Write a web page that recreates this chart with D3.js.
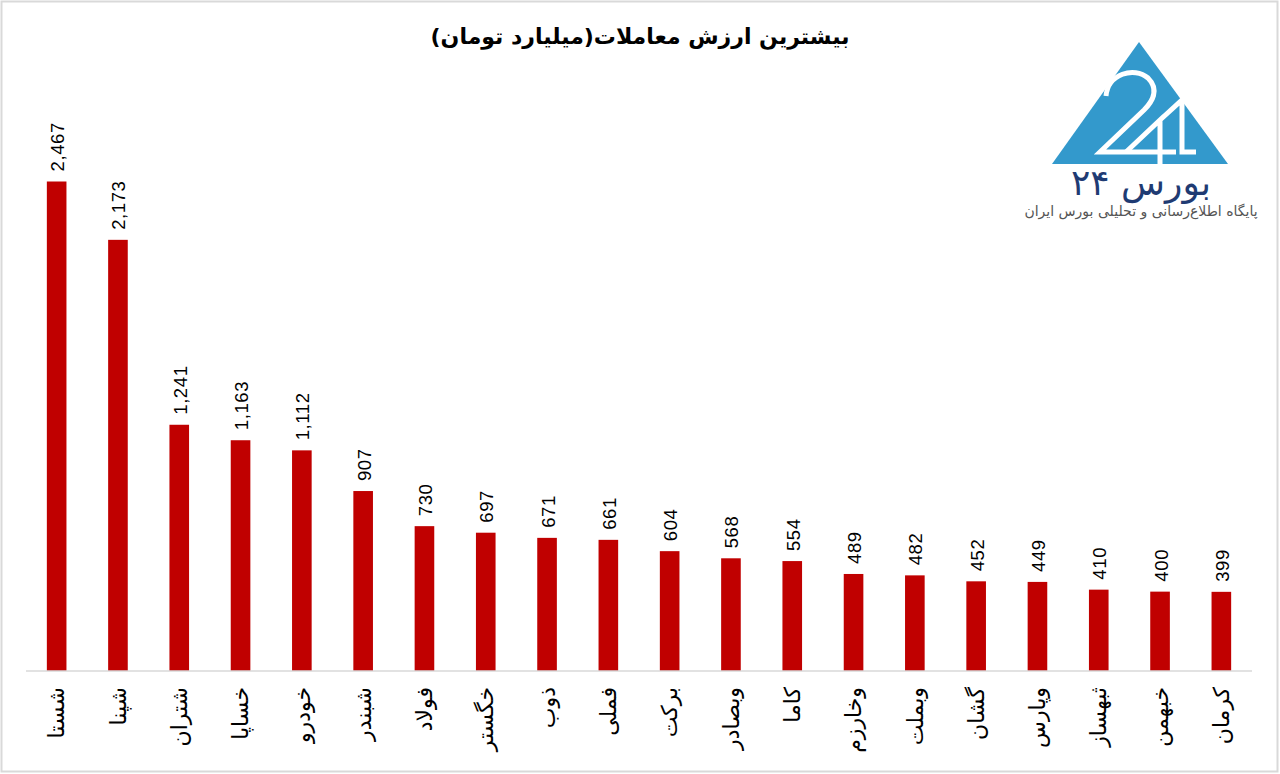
<!DOCTYPE html>
<html><head><meta charset="utf-8">
<script src="https://cdn.jsdelivr.net/npm/d3@7/dist/d3.min.js"></script>
<style>
body{margin:0;background:#fff;}
svg{display:block;}
</style></head>
<body>
<svg id="chart" width="1280" height="774"></svg>
<script>
const categories = ["شستا","شپنا","شتران","خساپا","خودرو","شبندر","فولاد","خگستر","ذوب","فملی","برکت","وبصادر","کاما","وخارزم","وبملت","گشان","وپارس","ثبهساز","خبهمن","کرمان"];
const values = [2467,2173,1241,1163,1112,907,730,697,671,661,604,568,554,489,482,452,449,410,400,399];
const title = "بیشترین ارزش معاملات(میلیارد تومان)";
const logoText = "بورس ۲۴";
const logoSub = "پایگاه اطلاع‌رسانی و تحلیلی بورس ایران";

const svg = d3.select("#chart");
svg.append("rect").attr("x",1.5).attr("y",1.5).attr("width",1276).attr("height",770)
  .attr("fill","#fff").attr("stroke","#d9d9d9").attr("stroke-width",2);

const x = d3.scaleBand().domain(categories).range([26,1252]).paddingInner(0.68).paddingOuter(0.34);
const y = d3.scaleLinear().domain([0, d3.max(values)]).range([671, 181.5]);
const data = categories.map((c,i)=>({c, v: values[i]}));

svg.selectAll("rect.bar").data(data).join("rect").attr("class","bar")
  .attr("x", d=>x(d.c)).attr("width", x.bandwidth())
  .attr("y", d=>y(d.v)).attr("height", d=>y(0)-y(d.v))
  .attr("fill","#c00000");

// axis
const xAxis = d3.axisBottom(x).tickSize(0).tickPadding(0);
const ax = svg.append("g").attr("transform","translate(0,671)").call(xAxis);
ax.select(".domain").attr("stroke","#d9d9d9").attr("stroke-width",1.5).attr("d","M26,0H1252");
ax.selectAll(".tick text")
  .attr("transform","translate(0,16) rotate(-90)")
  .attr("x",0).attr("y",0).attr("dy","0.35em")
  .attr("text-anchor","end")
  .attr("font-family","DejaVu Sans")
  .attr("font-size",22).attr("fill","#000");

// value labels
const fmt = d3.format(",");
svg.selectAll("text.val").data(data).join("text").attr("class","val")
  .attr("transform", d=>`translate(${x(d.c)+x.bandwidth()/2+1},${y(d.v)-10}) rotate(-90)`)
  .attr("dy","0.35em").attr("text-anchor","start")
  .attr("font-family","Liberation Sans").attr("font-size",18.5).attr("letter-spacing",0.6)
  .attr("fill","#000").text(d=>fmt(d.v));

// title
svg.append("text").attr("x",640).attr("y",44).attr("text-anchor","middle")
  .attr("font-family","DejaVu Sans").attr("font-weight","bold").attr("font-size",22)
  .attr("fill","#000").text(title);

// logo
const lg = svg.append("g");
lg.append("path").attr("d","M1139,42 L1228,164 L1052,164 Z").attr("fill","#3399cc");
lg.append("path").attr("d","M1106,96 C1108,74 1134,66 1148,78 C1160,90 1152,102 1144,110 L1100,152 L1176,152")
  .attr("fill","none").attr("stroke","#fff").attr("stroke-width",5);
lg.append("path").attr("d","M1126,152 L1160,120 L1160,166 M1160,120 L1182,100 L1182,152 L1196,152")
  .attr("fill","none").attr("stroke","#fff").attr("stroke-width",5);
lg.append("text").attr("x",1141).attr("y",195).attr("text-anchor","middle")
  .attr("font-family","DejaVu Sans").attr("font-size",36).attr("fill","#1f3b73").text(logoText);
lg.append("text").attr("x",1141).attr("y",216).attr("text-anchor","middle")
  .attr("font-family","DejaVu Sans").attr("font-size",14).attr("fill","#555").text(logoSub);
</script>
</body></html>
